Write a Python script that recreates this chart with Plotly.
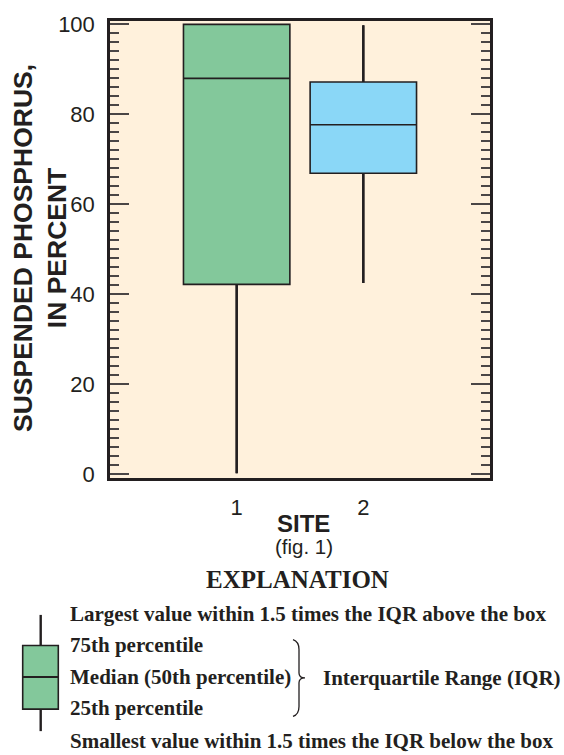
import plotly.graph_objects as go

# ---- data ----
sites = [1, 2]
site_labels = ["1", "2"]
lower_fence = [0.2, 42.5]
q1 = [42.2, 66.9]
median = [88.0, 77.7]
q3 = [100.0, 87.2]
upper_fence = [100.0, 99.8]
fill_colors = ["#83C89B", "#8AD7F7"]
y_ticks = [0, 20, 40, 60, 80, 100]

legend_lines = [
    "Largest value within 1.5 times the IQR above the box",
    "75th percentile",
    "Median (50th percentile)",
    "25th percentile",
    "Smallest value within 1.5 times the IQR below the box",
]

W, H = 564, 755
ML, MR, MT, MB = 110, 74, 14, 277
PW, PH = W - ML - MR, H - MT - MB
INK = "#231F20"


def px(x):
    return (x - ML) / PW


def py(y):
    return (H - MB - y) / PH


fig = go.Figure()
for i in range(len(sites)):
    fig.add_trace(go.Box(
        x=[sites[i]],
        q1=[q1[i]], median=[median[i]], q3=[q3[i]],
        lowerfence=[lower_fence[i]], upperfence=[upper_fence[i]],
        width=0.84, whiskerwidth=0,
        fillcolor=fill_colors[i],
        line=dict(color=INK, width=1.6),
        boxpoints=False, showlegend=False, hoverinfo="skip",
    ))
    # heavier whisker strokes drawn over the box whiskers
    fig.add_trace(go.Scatter(
        x=[sites[i], sites[i], None, sites[i], sites[i]],
        y=[q3[i], upper_fence[i], None, q1[i], lower_fence[i]],
        mode="lines", line=dict(color=INK, width=2.6),
        showlegend=False, hoverinfo="skip",
    ))

tickfont = dict(family="Liberation Sans, Arial", size=22, color=INK)
fig.update_layout(
    width=W, height=H,
    margin=dict(l=ML, r=MR, t=MT, b=MB, pad=0),
    paper_bgcolor="white", plot_bgcolor="#FFF1DC",
    xaxis=dict(range=[0, 3], tickvals=sites, ticktext=site_labels,
               ticks="", showgrid=False, zeroline=False,
               showline=True, linecolor=INK, linewidth=2.5, mirror=True,
               tickfont=tickfont, ticklabelstandoff=8),
    yaxis=dict(range=[-0.85, 100.75], tickvals=y_ticks,
               ticks="inside", ticklen=19, tickwidth=1.6, tickcolor="#4A4646",
               minor=dict(dtick=2, ticks="inside", ticklen=9, tickwidth=1.6,
                          tickcolor="#4A4646", showgrid=False),
               showgrid=False, zeroline=False,
               showline=True, linecolor=INK, linewidth=2.5, mirror="allticks",
               tickfont=tickfont, ticklabelstandoff=8),
)

ann = []
ann.append(dict(text="<b>SUSPENDED PHOSPHORUS,<br>IN PERCENT</b>", textangle=-90,
                xref="paper", yref="paper", x=px(39.5), y=py(245),
                xanchor="center", yanchor="middle", showarrow=False,
                font=dict(family="Liberation Sans, Arial", size=26.5, color=INK)))
ann.append(dict(text="<b>SITE</b>", xref="paper", yref="paper",
                x=px(303.5), y=py(524), xanchor="center", yanchor="middle",
                showarrow=False,
                font=dict(family="Liberation Sans, Arial", size=24, color=INK)))
ann.append(dict(text="(fig. 1)", xref="paper", yref="paper",
                x=px(304), y=py(548), xanchor="center", yanchor="middle",
                showarrow=False,
                font=dict(family="Liberation Sans, Arial", size=20.5, color=INK)))
ann.append(dict(text="<b>EXPLANATION</b>", xref="paper", yref="paper",
                x=px(297), y=py(581), xanchor="center", yanchor="middle",
                showarrow=False,
                font=dict(family="Liberation Serif, Times New Roman", size=25, color=INK)))
leg_y = [616, 648, 680, 712, 745]
for t, yy in zip(legend_lines, leg_y):
    ann.append(dict(text="<b>" + t + "</b>", xref="paper", yref="paper",
                    x=px(68), y=py(yy), xanchor="left", yanchor="middle",
                    showarrow=False,
                    font=dict(family="Liberation Serif, Times New Roman", size=21, color=INK)))
ann.append(dict(text="<b>Interquartile Range (IQR)</b>", xref="paper", yref="paper",
                x=px(321), y=py(681), xanchor="left", yanchor="middle",
                showarrow=False,
                font=dict(family="Liberation Serif, Times New Roman", size=21, color=INK)))
fig.update_layout(annotations=ann)

shapes = []
# legend glyph
shapes.append(dict(type="line", xref="paper", yref="paper",
                   x0=px(40.7), x1=px(40.7), y0=py(617), y1=py(735),
                   line=dict(color=INK, width=2.4)))
shapes.append(dict(type="rect", xref="paper", yref="paper",
                   x0=px(22.7), x1=px(58.3), y0=py(648), y1=py(712.7),
                   fillcolor="#83C89B", line=dict(color=INK, width=1.6)))
shapes.append(dict(type="line", xref="paper", yref="paper",
                   x0=px(22.7), x1=px(58.3), y0=py(680), y1=py(680),
                   line=dict(color=INK, width=2)))
# brace
pts = [(293, 642), (299, 644), (299, 652), (299, 676), (305, 681),
       (299, 686), (299, 710), (299, 718), (293, 720)]
p = [(px(a), py(b)) for a, b in pts]
path = (f"M {p[0][0]},{p[0][1]} Q {p[1][0]},{p[1][1]} {p[2][0]},{p[2][1]} "
        f"L {p[3][0]},{p[3][1]} Q {p[3][0]},{py(681)} {p[4][0]},{p[4][1]} "
        f"Q {p[5][0]},{py(681)} {p[5][0]},{py(686)} "
        f"L {p[6][0]},{p[6][1]} Q {p[7][0]},{p[7][1]} {p[8][0]},{p[8][1]}")
shapes.append(dict(type="path", xref="paper", yref="paper", path=path,
                   line=dict(color=INK, width=1.3)))
fig.update_layout(shapes=shapes)

fig.write_html("out.html")
